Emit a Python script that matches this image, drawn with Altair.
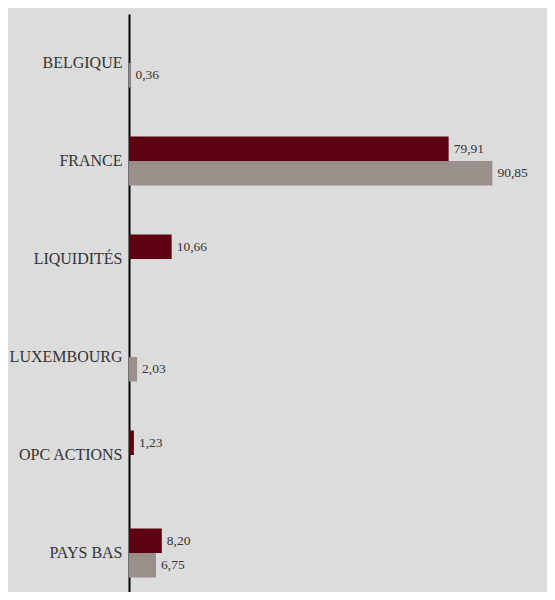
import altair as alt
import pandas as pd

categories = ["BELGIQUE", "FRANCE", "LIQUIDITÉS", "LUXEMBOURG", "OPC ACTIONS", "PAYS BAS"]
series_names = ["A", "B"]
values_a = [None, 79.91, 10.66, None, 1.23, 8.20]
values_b = [0.36, 90.85, None, 2.03, None, 6.75]

rows = []
for c, a, b in zip(categories, values_a, values_b):
    if a is not None:
        rows.append({"cat": c, "serie": "A", "v": a})
    if b is not None:
        rows.append({"cat": c, "serie": "B", "v": b})
df = pd.DataFrame(rows)

FONT = "Liberation Serif, Times New Roman, DejaVu Serif, serif"

y_enc = alt.Y("cat:N", sort=categories,
              scale=alt.Scale(domain=categories, paddingInner=0.5, paddingOuter=0.25, range=[0, 588]),
              axis=alt.Axis(title=None, ticks=False, domainColor="#000000", domainWidth=2,
                            labelFont=FONT, labelFontSize=16, labelColor="#333333",
                            labelPadding=7, labelBaseline="middle", labelLimit=200))
yoff = alt.YOffset("serie:N", scale=alt.Scale(domain=series_names, paddingInner=0, paddingOuter=0))
x_enc = alt.X("v:Q", scale=alt.Scale(domain=[0, 100], nice=False), axis=None)

base = alt.Chart(df).encode(y=y_enc, yOffset=yoff, x=x_enc)

bars = base.mark_bar().encode(
    color=alt.Color("serie:N", scale=alt.Scale(domain=series_names, range=["#5e0010", "#9a8f8a"]), legend=None)
)
labels = base.mark_text(align="left", baseline="middle", dx=5, font=FONT,
                        fontSize=13.5, color="#333333").transform_calculate(
    lab="replace(format(datum.v, '.2f'), '.', ',')"
).encode(text="lab:N")

chart = (bars + labels).properties(
    width=400, height=578, background="#dcdcdc",
    autosize=alt.AutoSizeParams(type="none"),
    padding={"left": 121, "top": 6, "right": 18, "bottom": 0},
).configure_view(stroke=None).configure_axis(grid=False)

chart.save("out.html", embed_options={"renderer": "svg", "actions": False})
